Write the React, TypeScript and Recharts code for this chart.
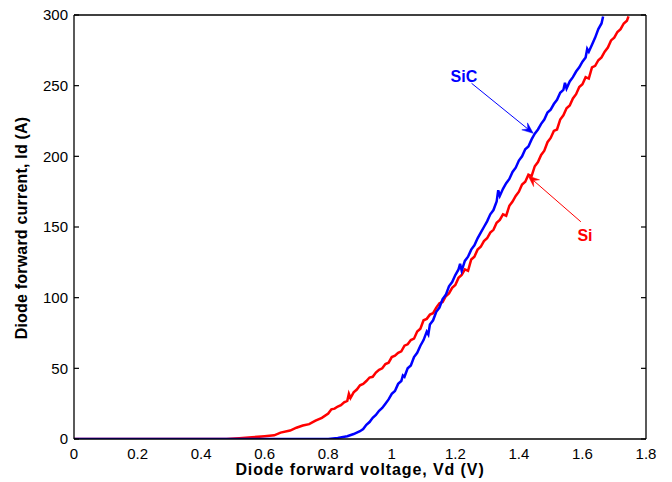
import React from 'react';
import { LineChart, Line, XAxis, YAxis, ReferenceLine, ReferenceDot, Label } from 'recharts';

// Si diode forward characteristic (red)
const siVoltage = [
  0, 0.1, 0.2, 0.3, 0.4, 0.48, 0.52, 0.56, 0.6, 0.63, 0.65, 0.68, 0.7, 0.72, 0.74, 0.76, 0.78,
  0.8, 0.81, 0.82, 0.83, 0.84, 0.85, 0.86, 0.865, 0.87, 0.88, 0.89, 0.9, 0.91, 0.92, 0.93, 0.94,
  0.95, 0.96, 0.97, 0.98, 0.99, 1.0, 1.01, 1.02, 1.03, 1.04, 1.05, 1.06, 1.07, 1.08, 1.09, 1.1,
  1.11, 1.12, 1.13, 1.14, 1.15, 1.16, 1.17, 1.18, 1.19, 1.2, 1.21, 1.22, 1.23, 1.24, 1.25, 1.26,
  1.27, 1.28, 1.29, 1.3, 1.31, 1.32, 1.33, 1.34, 1.35, 1.36, 1.37, 1.38, 1.39, 1.4, 1.41, 1.42,
  1.43, 1.44, 1.45, 1.46, 1.47, 1.48, 1.49, 1.5, 1.51, 1.52, 1.53, 1.54, 1.55, 1.56, 1.57, 1.58,
  1.59, 1.6, 1.61, 1.62, 1.63, 1.64, 1.65, 1.66, 1.67, 1.68, 1.69, 1.7, 1.71, 1.72, 1.73, 1.74, 1.745,
];
const siCurrent = [
  0, 0, 0, 0, 0, 0, 0.5, 1.2, 2, 2.6, 4.5, 6, 8, 9.5, 10.5, 13, 15,
  18, 21, 21.5, 23, 24, 26, 27, 32, 29, 33, 35, 38, 39, 41, 43.5, 44,
  47, 49, 50, 53, 54, 58, 59, 61, 62, 66, 67, 70, 71, 76, 78, 84,
  85, 88, 89, 93, 96, 97, 101, 103, 107, 109, 114, 116, 120, 119, 127, 129,
  134, 136, 140, 142, 146, 148, 153, 155, 159, 158, 165, 168, 172, 175, 180, 182,
  187, 186, 193, 196, 201, 204, 210, 213, 218, 219, 226, 229, 234, 236, 241, 244,
  249, 251, 256, 255, 263, 264, 268, 270, 274, 277, 282, 284, 288, 290, 294, 296, 299,
];

// SiC diode forward characteristic (blue)
const sicVoltage = [
  0, 0.2, 0.4, 0.6, 0.8, 0.83, 0.86, 0.88, 0.9, 0.91, 0.92, 0.93, 0.94, 0.95, 0.96, 0.97, 0.98,
  0.99, 1.0, 1.01, 1.02, 1.03, 1.035, 1.04, 1.05, 1.06, 1.07, 1.08, 1.09, 1.1, 1.11, 1.115, 1.12,
  1.13, 1.14, 1.15, 1.16, 1.17, 1.18, 1.19, 1.2, 1.21, 1.215, 1.22, 1.23, 1.24, 1.25, 1.26, 1.27,
  1.28, 1.29, 1.3, 1.31, 1.32, 1.33, 1.335, 1.34, 1.35, 1.36, 1.37, 1.38, 1.39, 1.4, 1.41, 1.42,
  1.43, 1.44, 1.45, 1.46, 1.47, 1.48, 1.49, 1.5, 1.51, 1.52, 1.53, 1.54, 1.545, 1.55, 1.56, 1.57,
  1.58, 1.59, 1.6, 1.61, 1.615, 1.62, 1.63, 1.64, 1.65, 1.66, 1.665,
];
const sicCurrent = [
  0, 0, 0, 0, 0, 0.8, 2, 3.5, 5.5, 7, 10, 12, 15, 17, 20, 22, 25,
  28, 32, 34, 39, 41, 45, 44, 50, 52, 58, 61, 66, 70, 76, 74, 81,
  84, 90, 93, 99, 102, 108, 111, 116, 120, 124, 119, 126, 129, 134, 137, 142,
  146, 150, 154, 159, 162, 168, 176, 172, 177, 181, 184, 189, 192, 197, 200, 205,
  207, 212, 216, 219, 223, 226, 231, 233, 237, 240, 245, 247, 252, 248, 253, 256,
  260, 263, 267, 270, 276, 274, 279, 284, 290, 294, 299,
];

const xTicks = [0, 0.2, 0.4, 0.6, 0.8, 1, 1.2, 1.4, 1.6, 1.8];
const yTicks = [0, 50, 100, 150, 200, 250, 300];
const xMax = 1.8;
const yMax = 300;

const xTitle = 'Diode forward voltage, Vd (V)';
const yTitle = 'Diode forward current, Id (A)';

// annotation arrows: label anchor, line start, arrow tip
const sicNote = { label: 'SiC', text: { v: 1.227, i: 256.8 }, from: { v: 1.251, i: 251.7 }, to: { v: 1.445, i: 216.3 } };
const siNote = { label: 'Si', text: { v: 1.608, i: 144.3 }, from: { v: 1.595, i: 153.7 }, to: { v: 1.4295, i: 186.1 } };

const siData = siVoltage.map((v, k) => ({ v, i: siCurrent[k] }));
const sicData = sicVoltage.map((v, k) => ({ v, i: sicCurrent[k] }));

const FONT = '"Liberation Sans", Arial, sans-serif';
const TICK_LEN = 5;
const blank = () => '';

const arrowShape = (color: string) => (p: any) => {
  const { x1, y1, x2, y2 } = p;
  const ang = Math.atan2(y2 - y1, x2 - x1);
  const len = 11;
  const half = 4.5;
  const back = 7;
  const ux = Math.cos(ang);
  const uy = Math.sin(ang);
  const bx = x2 - ux * len;
  const by = y2 - uy * len;
  const nx = -uy;
  const ny = ux;
  const pts = [
    [x2, y2],
    [bx + nx * half, by + ny * half],
    [x2 - ux * back, y2 - uy * back],
    [bx - nx * half, by - ny * half],
  ]
    .map((q) => q.join(','))
    .join(' ');
  return (
    <g>
      <line x1={x1} y1={y1} x2={x2 - ux * back} y2={y2 - uy * back} stroke={color} strokeWidth={1} />
      <polygon points={pts} fill={color} stroke={color} strokeWidth={0.5} />
    </g>
  );
};

const noteText = (label: string, color: string) => (p: any) => (
  <text x={p.cx} y={p.cy} dy="0.35em" textAnchor="middle" fill={color}
    style={{ fontFamily: FONT, fontSize: 16, fontWeight: 'bold' }}>
    {label}
  </text>
);

const YTitle = (props: any) => {
  const vb = props.viewBox || {};
  const cx = 27;
  const cy = vb.y + vb.height / 2 + 1;
  return (
    <text x={cx} y={cy} transform={`rotate(-90, ${cx}, ${cy})`} textAnchor="middle" fill="#000"
      style={{ fontFamily: FONT, fontSize: 16, fontWeight: 'bold', letterSpacing: 0.2 }}>
      {yTitle}
    </text>
  );
};

const tickStyle = { fontFamily: FONT, fontSize: 15, fill: '#000' };
const tickLineStyle = { stroke: '#000', strokeWidth: 1.2 };

export default function App() {
  return (
    <div style={{ position: 'absolute', left: 0, top: 0, width: 672, height: 482, background: '#fff' }}>
      <LineChart width={672} height={482} margin={{ top: 0, right: 0, bottom: 0, left: 0 }}>
        <XAxis
          xAxisId="bottom"
          dataKey="v"
          type="number"
          domain={[0, xMax]}
          ticks={xTicks}
          allowDataOverflow
          height={43}
          tickSize={0}
          tickMargin={9}
          tick={tickStyle}
          tickFormatter={(t: number) => String(t)}
          axisLine={{ stroke: '#000', strokeWidth: 1.3 }}
          tickLine={false}
        >
          <Label value={xTitle} position="insideBottom" offset={7}
            style={{ fontFamily: FONT, fontSize: 16, fontWeight: 'bold', fill: '#000', letterSpacing: 0.9 }} />
        </XAxis>
        <XAxis
          xAxisId="top"
          orientation="top"
          type="number"
          domain={[0, xMax]}
          ticks={xTicks}
          allowDataOverflow
          height={15}
          tick={false}
          axisLine={{ stroke: '#000', strokeWidth: 1.3 }}
          tickLine={false}
        />
        {/* mirrored axes: they take no room and carry the inward tick marks */}
        <XAxis
          xAxisId="bottomIn"
          orientation="bottom"
          mirror
          type="number"
          domain={[0, xMax]}
          ticks={xTicks}
          allowDataOverflow
          height={20}
          tickSize={TICK_LEN}
          tickFormatter={blank}
          axisLine={false}
          tickLine={tickLineStyle}
        />
        <XAxis
          xAxisId="topIn"
          orientation="top"
          mirror
          type="number"
          domain={[0, xMax]}
          ticks={xTicks}
          allowDataOverflow
          height={20}
          tickSize={TICK_LEN}
          tickFormatter={blank}
          axisLine={false}
          tickLine={tickLineStyle}
        />
        <YAxis
          yAxisId="left"
          type="number"
          domain={[0, yMax]}
          ticks={yTicks}
          allowDataOverflow
          width={74}
          tickSize={0}
          tickMargin={6}
          tick={tickStyle}
          axisLine={{ stroke: '#000', strokeWidth: 1.3 }}
          tickLine={false}
        >
          <Label content={<YTitle />} />
        </YAxis>
        <YAxis
          yAxisId="right"
          orientation="right"
          type="number"
          domain={[0, yMax]}
          ticks={yTicks}
          allowDataOverflow
          width={26}
          tick={false}
          axisLine={{ stroke: '#000', strokeWidth: 1.3 }}
          tickLine={false}
        />
        <YAxis
          yAxisId="leftIn"
          orientation="left"
          mirror
          type="number"
          domain={[0, yMax]}
          ticks={yTicks}
          allowDataOverflow
          width={20}
          tickSize={TICK_LEN}
          tickFormatter={blank}
          axisLine={false}
          tickLine={tickLineStyle}
        />
        <YAxis
          yAxisId="rightIn"
          orientation="right"
          mirror
          type="number"
          domain={[0, yMax]}
          ticks={yTicks}
          allowDataOverflow
          width={20}
          tickSize={TICK_LEN}
          tickFormatter={blank}
          axisLine={false}
          tickLine={tickLineStyle}
        />
        <Line xAxisId="bottom" yAxisId="left" data={siData} dataKey="i" type="linear" stroke="#ff0000"
          strokeWidth={2.5} dot={false} isAnimationActive={false} />
        <Line xAxisId="bottom" yAxisId="left" data={sicData} dataKey="i" type="linear" stroke="#0000ff"
          strokeWidth={2.5} dot={false} isAnimationActive={false} />
        {[{ n: sicNote, c: '#0000ff' }, { n: siNote, c: '#ff0000' }].map(({ n, c }) => (
          <ReferenceLine
            key={`line-${n.label}`}
            xAxisId="bottom"
            yAxisId="left"
            segment={[{ x: n.from.v, y: n.from.i }, { x: n.to.v, y: n.to.i }]}
            shape={arrowShape(c)}
          />
        ))}
        {[{ n: sicNote, c: '#0000ff' }, { n: siNote, c: '#ff0000' }].map(({ n, c }) => (
          <ReferenceDot
            key={`text-${n.label}`}
            xAxisId="bottom"
            yAxisId="left"
            x={n.text.v}
            y={n.text.i}
            r={1}
            shape={noteText(n.label, c)}
          />
        ))}
      </LineChart>
    </div>
  );
}
